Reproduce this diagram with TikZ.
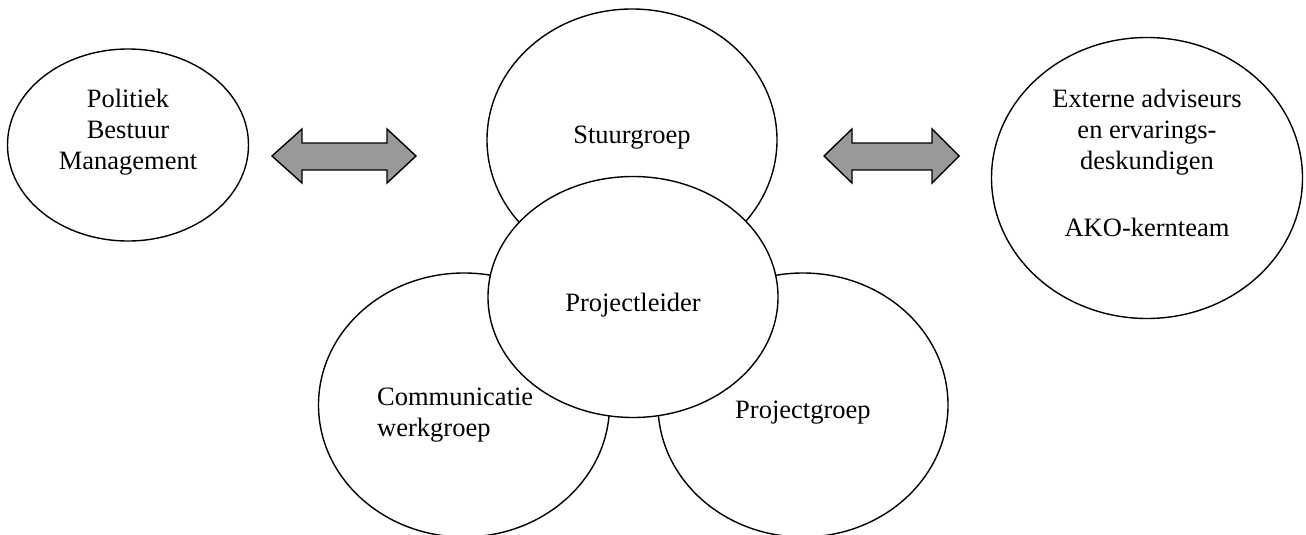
\documentclass[tikz,border=0pt]{standalone}
\usepackage{fontspec}
\setmainfont{Liberation Serif}
\usetikzlibrary{shapes.geometric}
\tikzset{
  blob/.style={ellipse, draw=black, line width=1.4pt, fill=white, inner sep=0pt},
  lbl/.style={inner sep=0pt, font=\fontsize{26.5}{31}\selectfont},
  blockarrow/.style={draw=black, line width=1.4pt, fill=black!40, line join=miter}
}
\begin{document}
\begin{tikzpicture}[x=1pt,y=-1pt]
\useasboundingbox (0,0) rectangle (1306,535);
% outer ellipses
\node[blob, minimum width=241pt, minimum height=192pt] (pol) at (128,145) {};
\node[blob, minimum width=311pt, minimum height=281pt] (ext) at (1147,178) {};
% central cluster
\node[blob, minimum width=290pt, minimum height=262pt] (stuur) at (632,140) {};
\node[blob, minimum width=291pt, minimum height=264pt] (comm) at (464,405) {};
\node[blob, minimum width=290pt, minimum height=264pt] (pgroep) at (803,405) {};
\node[blob, minimum width=290pt, minimum height=241pt] (pleider) at (633,297) {};
% block arrows
\coordinate (la) at (272,156);
\coordinate (ra) at (824,156);
\draw[blockarrow] (la) -- ++(30,-27) -- ++(0,14) -- ++(85,0) -- ++(0,-14) -- ++(29,27)
  -- ++(-29,27) -- ++(0,-13) -- ++(-85,0) -- ++(0,13) -- cycle;
\draw[blockarrow] (ra) -- ++(28,-27) -- ++(0,14) -- ++(80,0) -- ++(0,-14) -- ++(27,27)
  -- ++(-27,27) -- ++(0,-13) -- ++(-80,0) -- ++(0,13) -- cycle;
% labels (base anchor = baseline of last line)
\node[lbl, align=center, anchor=base] (tpol) at (128,169) {Politiek\\Bestuur\\Management};
\node[lbl, align=center, anchor=base] (text) at (1147,236) {Externe adviseurs\\en ervarings-\\deskundigen\\[36pt]AKO-kernteam};
\node[lbl, anchor=base] (tstuur) at (632,143) {Stuurgroep};
\node[lbl, anchor=base] (tpleider) at (633,311) {Projectleider};
\node[lbl, align=left, anchor=base west] (tcomm) at (377,436) {Communicatie\\werkgroep};
\node[lbl, anchor=base west] (tpgroep) at (735,418) {Projectgroep};
\end{tikzpicture}
\end{document}
